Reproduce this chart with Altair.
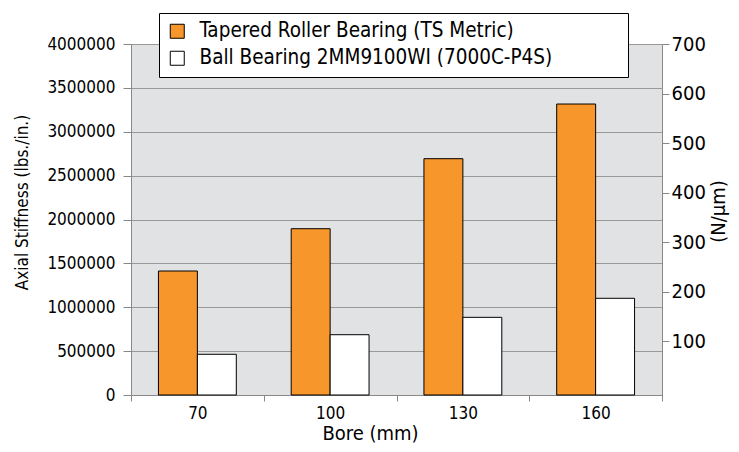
import altair as alt
import pandas as pd

bores = ["70", "100", "130", "160"]
series = ["Tapered Roller Bearing (TS Metric)", "Ball Bearing 2MM9100WI (7000C-P4S)"]
tapered = [1413000, 1895000, 2693000, 3316000]
ball = [464000, 687000, 885000, 1102000]
left_ticks = [0, 500000, 1000000, 1500000, 2000000, 2500000, 3000000, 3500000, 4000000]
right_ticks = [100, 200, 300, 400, 500, 600, 700]

rows = []
for i, b in enumerate(bores):
    rows.append({"bore": b, "series": series[0], "lbs": tapered[i]})
    rows.append({"bore": b, "series": series[1], "lbs": ball[i]})
df = pd.DataFrame(rows)

FONT = "DejaVu Sans Condensed, Roboto, sans-serif"

x_enc = alt.X("bore:N", sort=bores, title="Bore (mm)",
              scale=alt.Scale(paddingInner=0, paddingOuter=0),
              axis=alt.Axis(labelAngle=0, tickBand="extent", grid=False,
                            labelFontSize=17, titleFontSize=20, labelPadding=4,
                            titlePadding=2, tickSize=6, tickColor="#888",
                            domainColor="#888", labelColor="#000", titleColor="#000",
                            labelFont=FONT, titleFont=FONT, titleFontWeight="normal",
                            titleX=239))

bars = alt.Chart(df).mark_bar(stroke="black", strokeWidth=1).encode(
    x=x_enc,
    xOffset=alt.XOffset("series:N", sort=series,
                        scale=alt.Scale(paddingInner=0, paddingOuter=0.705)),
    y=alt.Y("lbs:Q", title="Axial Stiffness (lbs./in.)",
            scale=alt.Scale(domain=[0, 4000000], nice=False),
            axis=alt.Axis(values=left_ticks, format="d", grid=True, gridColor="#999",
                          labelFontSize=17, titleFontSize=17, tickSize=8,
                          tickColor="#888", domainColor="#888", labelColor="#000",
                          titleColor="#000", labelFont=FONT, titleFont=FONT,
                          titleFontWeight="normal", labelPadding=8, titlePadding=15,
                          titleY=158)),
    fill=alt.Fill("series:N", sort=series,
                  scale=alt.Scale(domain=series, range=["#f7962a", "#ffffff"]),
                  legend=alt.Legend(title=None, orient="none", legendX=28, legendY=-31,
                                    strokeColor="black", fillColor="white", padding=8,
                                    symbolType="square", symbolSize=196,
                                    symbolStrokeColor="black", symbolStrokeWidth=1,
                                    labelFontSize=20.5, labelFont=FONT, labelColor="#000",
                                    rowPadding=6, labelOffset=12, labelLimit=1000,
                                    labelExpr="pad(datum.label, 39, '\u2800')")),
)

right = alt.Chart(df).transform_calculate(nm="datum.lbs / 5714").mark_bar(opacity=0).encode(
    x=alt.X("bore:N", sort=bores, title="Bore (mm)"),
    xOffset=alt.XOffset("series:N", sort=series),
    y=alt.Y("nm:Q", title="(N/µm)",
            scale=alt.Scale(domain=[-9, 700], nice=False, zero=False),
            axis=alt.Axis(orient="right", values=right_ticks, grid=False,
                          labelFontSize=20, titleFontSize=20, tickSize=7,
                          tickColor="#888", domain=False, labelColor="#000",
                          titleColor="#000", labelFont=FONT, titleFont=FONT,
                          titleFontWeight="normal", labelPadding=2, titlePadding=3,
                          titleAngle=270, titleBaseline="top", titleY=167)),
)

chart = alt.layer(bars, right).resolve_scale(y="independent").properties(
    width=531, height=351,
    autosize=alt.AutoSizeParams(type="none"),
    padding={"left": 123, "top": 36, "right": 69, "bottom": 49},
).configure_view(fill="#e1e2e4", stroke="#888", strokeWidth=1)

chart.save("out.html", embed_options={"renderer": "svg", "actions": False})
